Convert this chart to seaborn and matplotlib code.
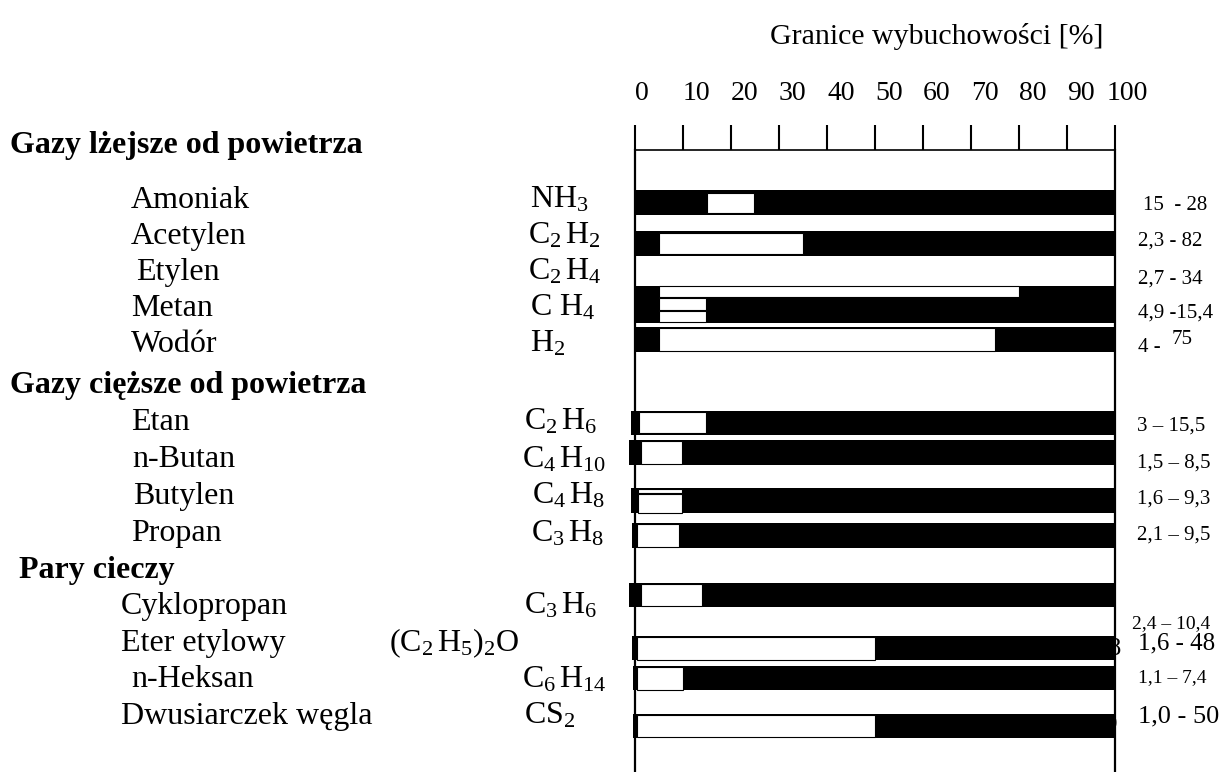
import numpy as np
import pandas as pd
import seaborn as sns
import matplotlib.pyplot as plt
from matplotlib.transforms import blended_transform_factory, ScaledTranslation

# Data
names = ['Amoniak', 'Acetylen', 'Etylen', 'Metan', 'Wodór',
         'Etan', 'n-Butan', 'Butylen', 'Propan',
         'Cyklopropan', 'Eter etylowy', 'n-Heksan', 'Dwusiarczek węgla']
formulas = [r'$\mathrm{NH_3}$', r'$\mathrm{C_2\,H_2}$', r'$\mathrm{C_2\,H_4}$',
            r'$\mathrm{C\ H_4}$', r'$\mathrm{H_2}$',
            r'$\mathrm{C_2\,H_6}$', r'$\mathrm{C_4\,H_{10}}$', r'$\mathrm{C_4\,H_8}$',
            r'$\mathrm{C_3\,H_8}$',
            r'$\mathrm{C_3\,H_6}$', r'$\mathrm{(C_2\,H_5)_2O}$', r'$\mathrm{C_6\,H_{14}}$',
            r'$\mathrm{CS_2}$']
ranges = ['15  - 28', '2,3 - 82', '2,7 - 34', '4,9 -15,4', '4 - ',
          '3 – 15,5', '1,5 – 8,5', '1,6 – 9,3', '2,1 – 9,5',
          '2,4 – 10,4', '1,6 - 48', '1,1 – 7,4', '1,0 - 50']
groups = ['Gazy lżejsze od powietrza', 'Gazy cięższe od powietrza', 'Pary cieczy']

# drawn white segment (explosive range) on the 0-100 % scale
lel = [15.1, 5.1, 5.1, 5.1, 5.1, 0.8, 1.2, 0.7, 0.5, 1.2, 0.5, 0.4, 0.4]
uel = [24.8, 35.0, 80.1, 14.8, 75.0, 14.8, 9.8, 9.8, 9.2, 13.9, 50.0, 9.9, 50.0]
ticks = list(range(0, 101, 10))

# layout (y in units of 10 px below the axis line)
has_black = [True, True, False, True, True, True, True, True, True, True, True, True, True]
black_x0 = [0, 0, 0, 0, 0, -0.8, -1.2, -0.8, -0.6, -1.2, -0.6, -0.4, -0.4]
bar_y = [5.25, 9.34, 14.13, 15.44, 18.95, 27.29, 30.25, 35.02, 38.54, 44.5, 49.83, 52.82, 57.62]
bar_h = [2.5, 2.53, 1.07, 3.67, 2.56, 2.43, 2.5, 2.5, 2.53, 2.4, 2.4, 2.43, 2.37]
white_parts = [[(5.3, 2.07)], [(9.33, 2.13)], [(14.13, 1.07)],
               [(15.39, 1.23), (16.62, 1.1)], [(18.95, 2.24)],
               [(27.25, 2.17)], [(30.25, 2.3)], [(34.1, 0.4), (35.35, 1.84)],
               [(38.55, 2.23)], [(44.52, 2.17)], [(49.85, 2.23)], [(52.83, 2.27)],
               [(57.62, 2.17)]]
name_x = [131, 131, 136, 131, 131, 131, 132, 133, 131, 121, 121, 131, 121]
name_y = [5.8, 9.4, 13.0, 16.6, 20.2, 28.0, 31.7, 35.4, 39.1, 46.4, 50.1, 53.7, 57.4]
form_x = [530, 528, 528, 530, 530, 524, 522, 532, 531, 524, 389, 522, 524]
group_x = [10, 10, 19]
group_y = [0.3, 24.3, 42.8]
range_x = [1143, 1138, 1138, 1138, 1138, 1137, 1137, 1137, 1137, 1132, 1138, 1138, 1138]
range_y = [6.05, 9.55, 13.35, 16.75, 20.25, 28.05, 31.75, 35.35, 38.95, 47.85, 49.9, 53.25, 57.2]
range_fs = [15, 15, 15, 15, 15, 15, 15, 15, 15, 14, 18, 14, 19]

W, H = 1225, 772

sns.set_theme(style='white')
plt.rcParams['font.family'] = ['Liberation Serif', 'DejaVu Serif']
plt.rcParams['mathtext.fontset'] = 'custom'
plt.rcParams['mathtext.rm'] = 'Liberation Serif'
plt.rcParams['mathtext.it'] = 'Liberation Serif:italic'
plt.rcParams['mathtext.bf'] = 'Liberation Serif:bold'
plt.rcParams['text.color'] = 'black'
plt.rcParams['xtick.color'] = 'black'

fig = plt.figure(figsize=(W / 100, H / 100), dpi=100)
ax = fig.add_axes([635 / W, 0, 480 / W, (H - 150) / H])
ax.set_xlim(0, 100)
ax.set_ylim((H - 150) / 10, 0)

# bars: black background, white explosive range
for i in range(len(names)):
    if has_black[i]:
        ax.barh(bar_y[i], 100 - black_x0[i], left=black_x0[i], height=bar_h[i],
                color='black', linewidth=0, zorder=2, clip_on=False)
    for yc, hh in white_parts[i]:
        ax.barh(yc, uel[i] - lel[i], left=lel[i], height=hh, color='white',
                edgecolor='black', linewidth=0.8, zorder=3, clip_on=False)

# axis frame and ticks
ax.set_xticks(ticks)
ax.set_xticklabels([str(t) for t in ticks])
ax.set_yticks([])
ax.xaxis.tick_top()
ax.tick_params(axis='x', top=True, bottom=False, labeltop=True, labelbottom=False,
               direction='out', length=18, width=1.5, pad=14, labelsize=20,
               colors='black')
labs = ax.get_xticklabels()
for lab in labs:
    lab.set_horizontalalignment('left')
labs[-1].set_transform(labs[-1].get_transform()
                       + ScaledTranslation(-0.08, 0, fig.dpi_scale_trans))
for side in ['left', 'right']:
    ax.spines[side].set_linewidth(1.6)
    ax.spines[side].set_color('black')
ax.spines['top'].set_linewidth(1.2)
ax.spines['top'].set_color('black')
ax.spines['bottom'].set_visible(False)

fig.text(937 / W, 1 - 37 / H, 'Granice wybuchowości [%]', fontsize=21.5,
         ha='center', va='center', color='black')

trans = blended_transform_factory(fig.transFigure, ax.transData)
for g, gx, gy in zip(groups, group_x, group_y):
    ax.text(gx / W, gy, g, transform=trans, fontsize=23, fontweight='bold',
            va='baseline', clip_on=False)
for i, n in enumerate(names):
    ax.text(name_x[i] / W, name_y[i], n, transform=trans, fontsize=23,
            va='baseline', clip_on=False)
    ax.text(form_x[i] / W, name_y[i], formulas[i], transform=trans, fontsize=23,
            va='baseline', clip_on=False)
    ax.text(range_x[i] / W, range_y[i], ranges[i], transform=trans,
            fontsize=range_fs[i], va='baseline', clip_on=False)
# raised upper limit for hydrogen
ax.text(1172 / W, 19.45, '75', transform=trans, fontsize=15, va='baseline', clip_on=False)

# labels hidden behind the bars
ax.text(101.3, 50.4, '1,6 - 48', fontsize=19, ha='right', va='baseline', zorder=1, clip_on=False)
ax.text(100.5, 57.8, '1,0 - 50', fontsize=14, ha='right', va='baseline', zorder=1, clip_on=False)

fig.savefig('out.png', dpi=100)
